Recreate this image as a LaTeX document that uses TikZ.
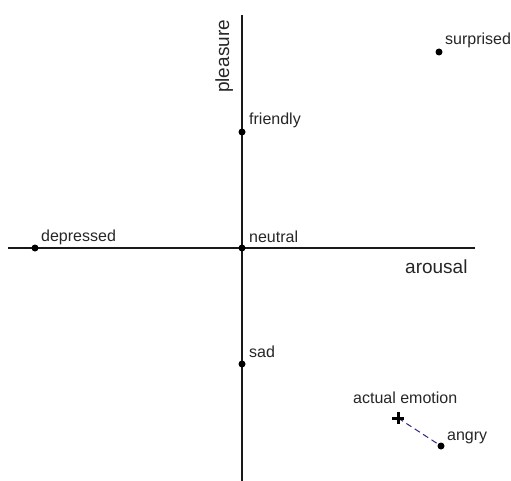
\documentclass[tikz,border=0pt]{standalone}
\usepackage{fontspec}
\setmainfont{Liberation Sans}
\begin{document}
\begin{tikzpicture}[x=1pt,y=-1pt,
  dot/.style={circle,fill=black,inner sep=0pt,minimum size=7pt},
  lbl/.style={anchor=base west,inner sep=0pt,font=\fontsize{16}{18}\selectfont,text=black!85},
  biglbl/.style={anchor=base west,inner sep=0pt,font=\fontsize{19}{22}\selectfont,text=black!85},
  axis/.style={line width=2.2pt,black!90}]
\useasboundingbox (0,0) rectangle (511,481);
% axes
\coordinate (vtop) at (242,15);
\coordinate (vbot) at (242,481);
\coordinate (hl) at (8,248);
\coordinate (hr) at (475,248);
\draw[axis] (vtop) -- (vbot);
\draw[axis] (hl) -- (hr);
\node[biglbl,rotate=90] (pleasure) at (229,93) {pleasure};
\node[biglbl] (arousal) at (405,273) {arousal};
% points
\node[dot] (friendly) at (242,132) {};
\node[lbl] (friendlyl) at (249,125) {friendly};
\node[dot] (depressed) at (35,248) {};
\node[lbl] (depressedl) at (41,241) {depressed};
\node[dot] (neutral) at (242,248) {};
\node[lbl] (neutrall) at (249,242) {neutral};
\node[dot] (sad) at (242,364) {};
\node[lbl] (sadl) at (249,357) {sad};
\node[dot] (surprised) at (439,52) {};
\node[lbl] (surprisedl) at (445,45) {surprised};
\node[dot] (angry) at (441,446) {};
\node[lbl] (angryl) at (447,440) {angry};
% actual emotion
\coordinate (actual) at (398,418);
\node[lbl] (actuall) at (353,403) {actual emotion};
\draw[dashed,dash pattern=on 6pt off 4pt,line width=1pt,color={rgb,255:red,40;green,40;blue,130}] (actual) -- (angry);
\draw[line width=3pt] ([xshift=-6pt]actual) -- ([xshift=6pt]actual);
\draw[line width=3pt] ([yshift=-6pt]actual) -- ([yshift=6pt]actual);
\end{tikzpicture}
\end{document}
